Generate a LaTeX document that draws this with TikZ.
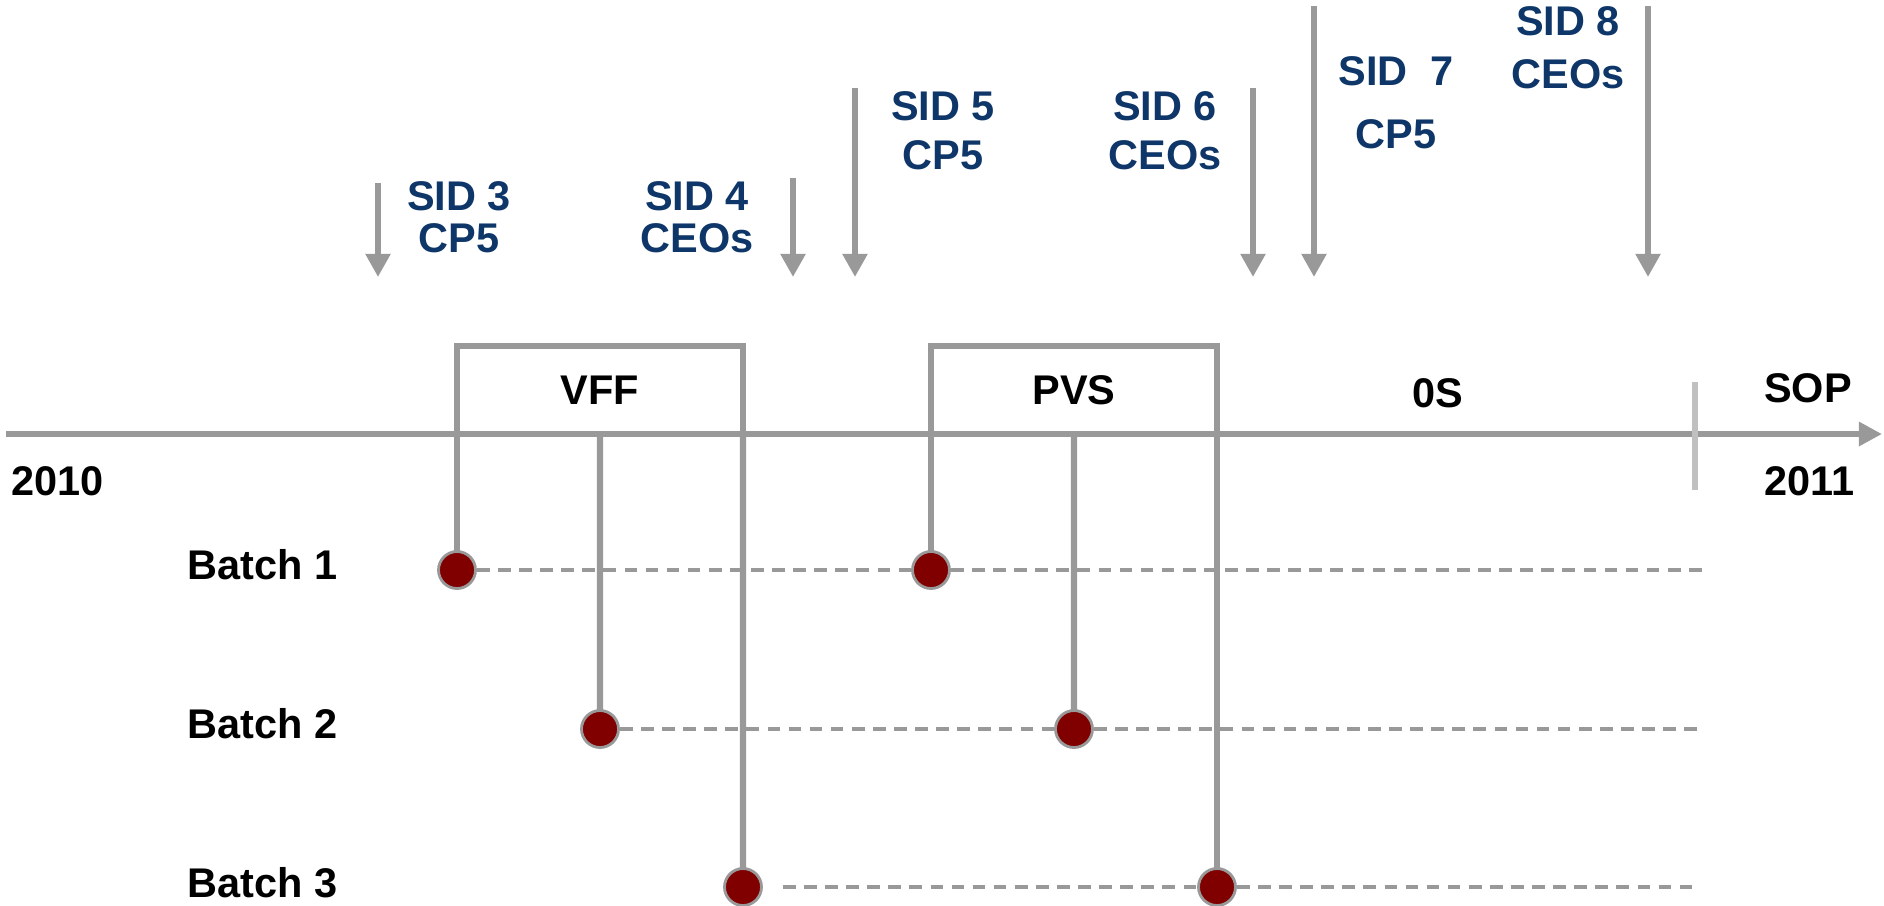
\documentclass[tikz,border=0pt]{standalone}
\usepackage{fontspec}
\setmainfont{Liberation Sans}
\usetikzlibrary{arrows.meta,backgrounds}

\definecolor{sidblue}{RGB}{14,54,104}
\definecolor{linegray}{RGB}{153,153,153}
\definecolor{tickgray}{RGB}{192,192,192}
\definecolor{dotred}{RGB}{128,0,0}

\begin{document}
\begin{tikzpicture}[
	heavy/.style={draw=linegray, line width=1.8pt},
	sidarrow/.style={linegray, line width=1.8pt, -{Triangle[width=6.8pt,length=6.6pt]}},
	phasebox/.style={heavy, minimum width=2.86cm, minimum height=0.88cm, anchor=south west, inner sep=0pt, outer sep=0pt, font=\bfseries\fontsize{11.8}{14}\selectfont},
	batchdot/.style={circle, draw=linegray, fill=dotred, line width=0.8pt, minimum size=0.37cm, inner sep=0pt},
	batchline/.style={linegray, line width=0.95pt, dash pattern=on 3.6pt off 2.4pt},
	sidlabel/.style={sidblue, align=center, font=\bfseries\fontsize{11.8}{12}\selectfont},
	txt/.style={inner sep=0pt, font=\bfseries\fontsize{11.8}{14}\selectfont}
]
	\useasboundingbox (0,0) rectangle (18.84,-9.05);
	
	% Eixo do tempo
	\coordinate (axstart) at (0.06,-4.34);
	\coordinate (axend) at (18.82,-4.34);
	\draw[linegray, line width=1.8pt, -{Triangle[width=6.6pt,length=6.6pt]}] (axstart) -- (axend);
	\node[txt, anchor=west] (y2010) at (0.11,-4.81) {2010};
	\node[txt, anchor=east] (y2011) at (18.55,-4.81) {2011};
	
	% Marca do SOP
	\coordinate (soptop) at (16.95,-3.82);
	\coordinate (sopbot) at (16.95,-4.90);
	\draw[tickgray, line width=1.8pt] (soptop) -- (sopbot);
	\node[txt] (sop) at (18.08,-3.88) {SOP};
	\node[txt] (os) at (14.38,-3.93) {0S};
	
	% Fases (caixas)
	\node[phasebox] (vff) at (4.57,-4.34) {VFF};
	\node[phasebox] (pvs) at (9.31,-4.34) {PVS};
	
	% Batches
	\node[txt, anchor=west] (batch1) at (1.87,-5.65) {Batch 1};
	\node[txt, anchor=west] (batch2) at (1.87,-7.24) {Batch 2};
	\node[txt, anchor=west] (batch3) at (1.87,-8.83) {Batch 3};
	
	\node[batchdot] (b1vff) at (4.57,-5.70) {};
	\node[batchdot] (b1pvs) at (9.31,-5.70) {};
	\node[batchdot] (b2vff) at (6.00,-7.29) {};
	\node[batchdot] (b2pvs) at (10.74,-7.29) {};
	\node[batchdot] (b3vff) at (7.43,-8.87) {};
	\node[batchdot] (b3pvs) at (12.17,-8.87) {};
	\coordinate (b1end) at (17.05,-5.70);
	\coordinate (b2end) at (16.98,-7.29);
	\coordinate (b3end) at (16.98,-8.87);
	
	\begin{scope}[on background layer]
		% Linhas tracejadas
		\draw[batchline] (b1vff) -- (b1pvs) -- (b1end);
		\draw[batchline] (b2vff) -- (b2pvs) -- (b2end);
		\draw[batchline, shorten <=0.2cm] (b3vff) -- (b3pvs);
		\draw[batchline] (b3pvs) -- (b3end);
		
		% Ligacoes das fases aos batches
		\draw[heavy] (vff.south west) -- (b1vff.center);
		\draw[heavy] (vff.south) -- (b2vff.center);
		\draw[heavy] (vff.south east) -- (b3vff.center);
		\draw[heavy] (pvs.south west) -- (b1pvs.center);
		\draw[heavy] (pvs.south) -- (b2pvs.center);
		\draw[heavy] (pvs.south east) -- (b3pvs.center);
	\end{scope}
	
	% Setas dos SIDs
	\foreach \x/\ytop [count=\i] in {3.78/1.83, 7.93/1.78, 8.55/0.88, 12.53/0.88, 13.14/0.06, 16.48/0.06} {
		\coordinate (top\i) at (\x,-\ytop);
		\coordinate (tip\i) at (\x,-2.77);
		\draw[sidarrow] (top\i) -- (tip\i);
	}
	
	% Rotulos dos SIDs
	\node[sidlabel] (sid3) at (4.59,-2.17) {SID 3\\CP5};
	\node[sidlabel] (sid4) at (6.97,-2.17) {SID 4\\CEOs};
	\node[sidlabel] (sid5) at (9.43,-1.31) {SID 5\\[2pt]CP5};
	\node[sidlabel] (sid6) at (11.65,-1.31) {SID 6\\[2pt]CEOs};
	\node[sidlabel] (sid7) at (13.96,-1.03) {SID~~7\\[6pt]CP5};
	\node[sidlabel] (sid8) at (15.68,-0.48) {SID 8\\[3pt]CEOs};
\end{tikzpicture}
\end{document}
